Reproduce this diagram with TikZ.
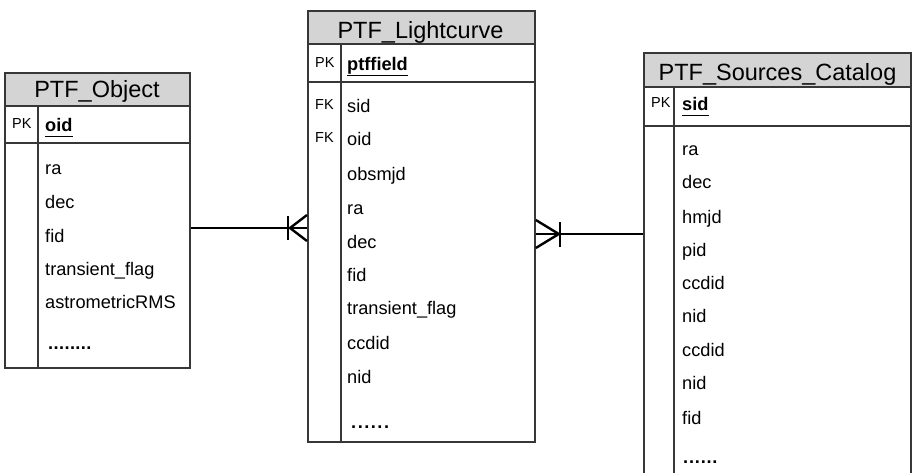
\documentclass[tikz,border=0pt]{standalone}
\usepackage{fontspec}
\setmainfont{Liberation Sans}
\definecolor{headfill}{RGB}{212,212,212}
\definecolor{linegray}{RGB}{55,55,55}
% a row of spaced bold dots marking omitted columns
\newcommand\moredots[2]{\textbf{\foreach \k in {1,...,#1}{.\kern#2}}}
\begin{document}
\begin{tikzpicture}[x=1pt,y=-1pt,
  frame/.style={draw=linegray, line width=1.8pt, inner sep=0pt, anchor=north west},
  head/.style={frame, fill=headfill},
  rule/.style={draw=linegray, line width=1.8pt},
  title/.style={font=\fontsize{23.5}{26}\selectfont, inner sep=0pt, anchor=base},
  field/.style={font=\fontsize{18.2}{20}\selectfont, inner sep=0pt, anchor=base west},
  tag/.style={font=\fontsize{14.5}{16}\selectfont, inner sep=0pt, anchor=base west},
  keyline/.style={line width=1.8pt, black},
  conn/.style={line width=2.4pt, black}
]
\useasboundingbox (0,0) rectangle (912,473);
\clip (0,0) rectangle (912,473);

% ---------- PTF_Object ----------
\node[head, minimum width=185pt, minimum height=33pt] (objH) at (4,72) {};
\node[frame, minimum width=185pt, minimum height=295pt] (obj) at (4,72) {};
\draw[rule] (obj.west |- 0,143) -- (obj.east |- 0,143);
\draw[rule] (38,105) -- (38,367);
\node[title] (objT) at (97,98) {PTF\_Object};
\node[tag] (objPK) at (12,129) {PK};
\node[field] (objK) at (45,132) {\textbf{oid}};
\draw[keyline] ([yshift=-4.5pt]objK.base west) -- ([yshift=-4.5pt]objK.base east);
\foreach \t/\yy [count=\i] in {ra/175, dec/208, fid/242, transient\_flag/275, astrometricRMS/308}
  \node[field] (obj-\i) at (45,\yy) {\t};
\node[field] (objMore) at (48,349) {\moredots{8}{0.4pt}};

% ---------- PTF_Lightcurve ----------
\node[head, minimum width=227pt, minimum height=33pt] (lcH) at (307,10) {};
\node[frame, minimum width=227pt, minimum height=431pt] (lc) at (307,10) {};
\draw[rule] (lc.west |- 0,82) -- (lc.east |- 0,82);
\draw[rule] (341,43) -- (341,441);
\node[title] (lcT) at (420.5,38.5) {PTF\_Lightcurve};
\node[tag] (lcPK) at (315,68) {PK};
\node[field] (lcK) at (347,71) {\textbf{ptffield}};
\draw[keyline] ([yshift=-4.5pt]lcK.base west) -- ([yshift=-4.5pt]lcK.base east);
\node[tag] (lcFK1) at (315,110) {FK};
\node[tag] (lcFK2) at (315,143) {FK};
\foreach \t/\yy [count=\i] in {sid/113, oid/146, obsmjd/180, ra/214, dec/248, fid/281, transient\_flag/314, ccdid/349, nid/383}
  \node[field] (lc-\i) at (347,\yy) {\t};
\node[field] (lcMore) at (351,428) {\moredots{6}{1.5pt}};

% ---------- PTF_Sources_Catalog ----------
\node[head, minimum width=267pt, minimum height=34pt] (srcH) at (643,52) {};
\node[frame, minimum width=267pt, minimum height=440pt] (src) at (643,52) {};
\draw[rule] (src.west |- 0,126) -- (src.east |- 0,126);
\draw[rule] (674,86) -- (674,492);
\node[title] (srcT) at (777.5,81) {PTF\_Sources\_Catalog};
\node[tag] (srcPK) at (651,108) {PK};
\node[field] (srcK) at (682,111) {\textbf{sid}};
\draw[keyline] ([yshift=-4.5pt]srcK.base west) -- ([yshift=-4.5pt]srcK.base east);
\foreach \t/\yy [count=\i] in {ra/156, dec/189, hmjd/223, pid/256, ccdid/289, nid/322, ccdid/356, nid/389, fid/424}
  \node[field] (src-\i) at (682,\yy) {\t};
\node[field] (srcMore) at (683,463) {\moredots{6}{0.8pt}};

% ---------- relationships ----------
% PTF_Object (one) to PTF_Lightcurve (many)
\draw[conn] (obj.east |- 0,228) coordinate (a1) -- (lc.west |- 0,228) coordinate (a2);
\draw[conn] ([yshift=-13pt]a2) -- ([xshift=-17pt]a2) -- ([yshift=13pt]a2);
\draw[conn] ([shift={(-19pt,-12pt)}]a2) -- ([shift={(-19pt,12pt)}]a2);

% PTF_Sources_Catalog (one) to PTF_Lightcurve (many)
\draw[conn] (lc.east |- 0,234) coordinate (b1) -- (src.west |- 0,234) coordinate (b2);
\draw[conn] ([yshift=-14pt]b1) -- ([xshift=23pt]b1) -- ([yshift=14pt]b1);
\draw[conn] ([shift={(24pt,-13pt)}]b1) -- ([shift={(24pt,12pt)}]b1);
\end{tikzpicture}
\end{document}
